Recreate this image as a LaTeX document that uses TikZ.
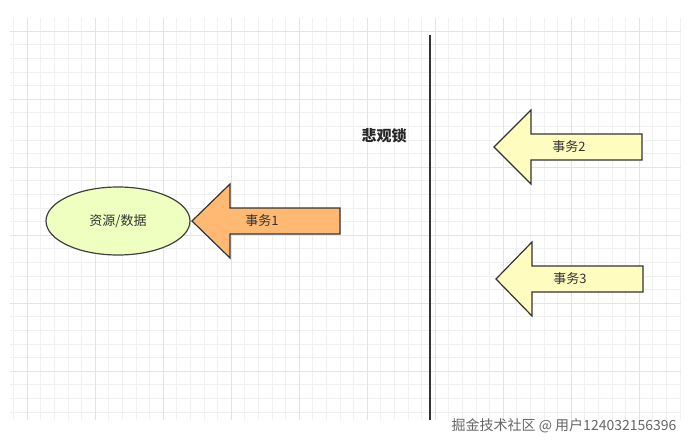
\documentclass[tikz,border=0pt]{standalone}
\usepackage{fontspec}
\setmainfont{Noto Sans CJK SC}
\usetikzlibrary{shapes.geometric}
\begin{document}
\begin{tikzpicture}[x=1pt,y=-1pt,
  arr/.style={draw=black!80,line width=1.2pt,line join=miter},
  lbl/.style={font=\fontsize{13}{15}\selectfont,text=black!80}]
\useasboundingbox (0,0) rectangle (691,447);
\fill[white] (0,0) rectangle (691,447);
\begin{scope}
\clip (10,18) rectangle (681,420);
\foreach \i in {0,...,50} \draw[black!6,line width=0.5pt] (13.4+13.6*\i,18) -- (13.4+13.6*\i,420);
\foreach \i in {0,...,30} \draw[black!6,line width=0.5pt] (10,17.4+13.6*\i) -- (681,17.4+13.6*\i);
\foreach \x in {27,95,163,231,299,367,435,503,571,639} \draw[black!11,line width=0.6pt] (\x,18) -- (\x,420);
\foreach \y in {31,99,167,235,303,371} \draw[black!11,line width=0.6pt] (10,\y) -- (681,\y);
\end{scope}
\node[draw=black!75,line width=1.2pt,fill=green!25!yellow!25,ellipse,minimum width=144,minimum height=68,inner sep=0] (res) at (118,221) {};
\node[lbl] at (res) {资源/数据};
\draw[arr,fill=orange!55!white] (192,221) -- (230,184) -- (230,208) -- (340,208) -- (340,234) -- (230,234) -- (230,258) -- cycle;
\node[lbl] (t1) at (262,221) {事务1};
\draw[arr,fill=yellow!25] (494,147) -- (531,110) -- (531,134) -- (642,134) -- (642,160) -- (531,160) -- (531,184) -- cycle;
\node[lbl] (t2) at (569,147) {事务2};
\draw[arr,fill=yellow!25] (496,279) -- (532,242) -- (532,266) -- (643,266) -- (643,292) -- (532,292) -- (532,316) -- cycle;
\node[lbl] (t3) at (570,279) {事务3};
\draw[black!80,line width=1.4pt] (430,35) -- (430,420);
\node[font=\bfseries\fontsize{15}{17}\selectfont,text=black!85] (lock) at (384,136) {悲观锁};
\node[font=\fontsize{14}{16}\selectfont,text=black!60,anchor=east] (wm) at (680,426) {掘金技术社区 @ 用户124032156396};
\end{tikzpicture}
\end{document}
